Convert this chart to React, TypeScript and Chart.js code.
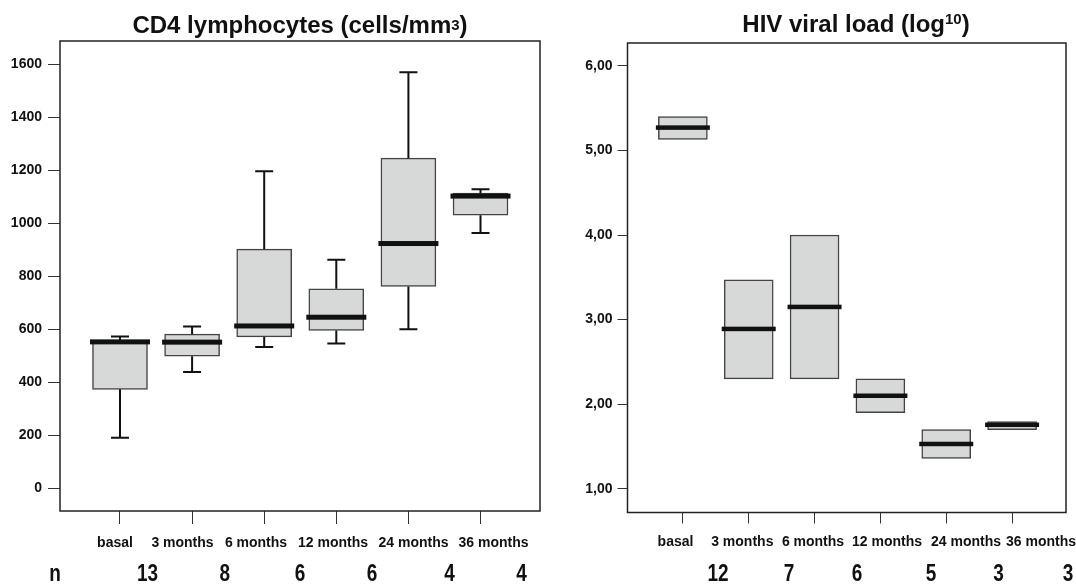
import React, { useEffect, useRef } from "react";
import { Chart, registerables } from "chart.js";

Chart.register(...registerables);

// ---------- DATA ----------
const categories = ["basal", "3 months", "6 months", "12 months", "24 months", "36 months"];

// CD4 lymphocytes (cells/mm3)
const cd4Min = [190, 438, 533, 546, 600, 963];
const cd4Q1 = [373, 498, 571, 595, 761, 1030];
const cd4Median = [552, 551, 612, 645, 923, 1102];
const cd4Q3 = [558, 581, 902, 752, 1245, 1113];
const cd4Max = [572, 610, 1196, 862, 1569, 1128];
const cd4N = [13, 8, 6, 6, 4, 4];
const cd4Ticks = [0, 200, 400, 600, 800, 1000, 1200, 1400, 1600];

// HIV viral load (log10)
const vlQ1 = [5.13, 2.3, 2.3, 1.9, 1.36, 1.7];
const vlMedian = [5.27, 2.89, 3.15, 2.1, 1.53, 1.757];
const vlQ3 = [5.4, 3.47, 4.0, 2.3, 1.7, 1.795];
const vlMin = [5.13, 2.3, 2.3, 1.9, 1.36, 1.7];
const vlMax = [5.4, 3.47, 4.0, 2.3, 1.7, 1.795];
const vlN = [12, 7, 6, 5, 3, 3];
const vlTicks = [1, 2, 3, 4, 5, 6];

const FONT = "'Liberation Sans', Arial, sans-serif";
const INK = "#111";

type Spec = {
  canvasLeft: number;
  width: number;
  height: number;
  q1: number[];
  q3: number[];
  median: number[];
  min: number[];
  max: number[];
  n: number[];
  ticks: number[];
  tickFormat: (v: number) => string;
  yMin: number;
  yMax: number;
  xMin: number;
  xMax: number;
  yAxisWidth: number;
  padding: { top: number; right: number; bottom: number; left: number };
  tickLenY: number;
  tickPadY: number;
  tickLenX: number;
  boxWidth: number;
  medianWidth: number;
  medianThickness: number;
  capWidth: number;
  title: [string, string, string];
  supSize: number;
  supRaise: number;
  titleX: number;
  titleY: number;
  labelX: number[];
  labelY: number;
  nX: number[];
  nY: number;
  nLabelX?: number;
};

function makeConfig(s: Spec): any {
  const boxPlugin = {
    id: "boxExtras",
    afterDatasetsDraw(chart: any) {
      const ctx = chart.ctx;
      const xs = chart.scales.x;
      const ys = chart.scales.y;
      ctx.save();
      ctx.strokeStyle = INK;
      ctx.fillStyle = INK;
      ctx.lineWidth = 2;
      categories.forEach((_, i) => {
        const x = xs.getPixelForValue(i);
        const yq1 = ys.getPixelForValue(s.q1[i]);
        const yq3 = ys.getPixelForValue(s.q3[i]);
        if (s.max[i] > s.q3[i]) {
          const ymax = ys.getPixelForValue(s.max[i]);
          ctx.beginPath();
          ctx.moveTo(x, yq3);
          ctx.lineTo(x, ymax);
          ctx.moveTo(x - s.capWidth / 2, ymax);
          ctx.lineTo(x + s.capWidth / 2, ymax);
          ctx.stroke();
        }
        if (s.min[i] < s.q1[i]) {
          const ymin = ys.getPixelForValue(s.min[i]);
          ctx.beginPath();
          ctx.moveTo(x, yq1);
          ctx.lineTo(x, ymin);
          ctx.moveTo(x - s.capWidth / 2, ymin);
          ctx.lineTo(x + s.capWidth / 2, ymin);
          ctx.stroke();
        }
        const ym = ys.getPixelForValue(s.median[i]);
        ctx.fillRect(x - s.medianWidth / 2, ym - s.medianThickness / 2, s.medianWidth, s.medianThickness);
      });
      // frame
      const a = chart.chartArea;
      ctx.strokeStyle = "#222";
      ctx.lineWidth = 1.5;
      ctx.strokeRect(a.left, a.top, a.right - a.left, a.bottom - a.top);
      ctx.restore();
    },
    afterDraw(chart: any) {
      const ctx = chart.ctx;
      const off = s.canvasLeft;
      ctx.save();
      ctx.fillStyle = INK;
      ctx.textBaseline = "alphabetic";
      // title with superscript
      const mainFont = `bold 24px ${FONT}`;
      const supFont = `bold ${s.supSize}px ${FONT}`;
      const [t0, t1, t2] = s.title;
      ctx.font = mainFont;
      const w0 = ctx.measureText(t0).width;
      const w2 = ctx.measureText(t2).width;
      ctx.font = supFont;
      const w1 = ctx.measureText(t1).width;
      let x = s.titleX - off - (w0 + w1 + w2) / 2;
      ctx.textAlign = "left";
      ctx.font = mainFont;
      ctx.fillText(t0, x, s.titleY);
      x += w0;
      ctx.font = supFont;
      ctx.fillText(t1, x, s.titleY - s.supRaise);
      x += w1;
      ctx.font = mainFont;
      ctx.fillText(t2, x, s.titleY);
      // category labels
      ctx.textAlign = "center";
      ctx.font = `bold 14px ${FONT}`;
      categories.forEach((c, i) => {
        ctx.fillText(c, s.labelX[i] - off, s.labelY);
      });
      // n row
      ctx.font = `bold 19px ${FONT}`;
      const drawTall = (t: string, xx: number) => {
        ctx.save();
        ctx.translate(xx - off, s.nY);
        ctx.scale(1, 1.3);
        ctx.fillText(t, 0, 0);
        ctx.restore();
      };
      if (s.nLabelX !== undefined) drawTall("n", s.nLabelX);
      s.n.forEach((v, i) => drawTall(String(v), s.nX[i]));
      ctx.restore();
    },
  };

  return {
    type: "bar",
    data: {
      datasets: [
        {
          data: categories.map((_, i) => ({ x: i, y: [s.q1[i], s.q3[i]] })),
          backgroundColor: "#d7d9d8",
          borderColor: "#444",
          borderWidth: 1.5,
          borderSkipped: false,
          barThickness: s.boxWidth,
        },
      ],
    },
    options: {
      responsive: false,
      animation: false,
      events: [],
      layout: { padding: s.padding },
      plugins: { legend: { display: false }, tooltip: { enabled: false }, title: { display: false } },
      scales: {
        x: {
          type: "linear",
          offset: false,
          min: s.xMin,
          max: s.xMax,
          afterBuildTicks: (scale: any) => {
            scale.ticks = categories.map((_, i) => ({ value: i }));
          },
          afterFit: (scale: any) => {
            scale.height = 40;
          },
          ticks: { display: false },
          grid: {
            offset: false,
            drawOnChartArea: false,
            drawTicks: true,
            tickLength: s.tickLenX,
            color: "#333",
            lineWidth: 1,
          },
          border: { display: false },
        },
        y: {
          type: "linear",
          beginAtZero: false,
          min: s.yMin,
          max: s.yMax,
          afterBuildTicks: (scale: any) => {
            scale.ticks = s.ticks.map((v) => ({ value: v }));
          },
          afterFit: (scale: any) => {
            scale.width = s.yAxisWidth;
          },
          ticks: {
            autoSkip: false,
            color: INK,
            padding: s.tickPadY,
            font: { family: FONT, size: 14, weight: "bold" },
            callback: (v: any) => s.tickFormat(Number(v)),
          },
          grid: {
            drawOnChartArea: false,
            drawTicks: true,
            tickLength: s.tickLenY,
            color: "#333",
            lineWidth: 1,
          },
          border: { display: false },
        },
      },
    },
    plugins: [boxPlugin],
  };
}

const leftSpec: Spec = {
  canvasLeft: 0,
  width: 550,
  height: 584,
  q1: cd4Q1,
  q3: cd4Q3,
  median: cd4Median,
  min: cd4Min,
  max: cd4Max,
  n: cd4N,
  ticks: cd4Ticks,
  tickFormat: (v) => String(v),
  yMin: -86,
  yMax: 1687,
  xMin: -0.832,
  xMax: 5.825,
  yAxisWidth: 60,
  padding: { top: 41, right: 10, bottom: 33, left: 0 },
  tickLenY: 12,
  tickPadY: 6,
  tickLenX: 13,
  boxWidth: 55,
  medianWidth: 60,
  medianThickness: 5,
  capWidth: 18,
  title: ["CD4 lymphocytes (cells/mm", "3", ")"],
  supSize: 15,
  supRaise: 3,
  titleX: 300,
  titleY: 33,
  labelX: [115, 182.5, 256, 333, 413.5, 493.5],
  labelY: 547,
  nX: [147.6, 224.8, 300, 372, 449.6, 521.6],
  nY: 581,
  nLabelX: 55,
};

const rightSpec: Spec = {
  canvasLeft: 550,
  width: 526,
  height: 584,
  q1: vlQ1,
  q3: vlQ3,
  median: vlMedian,
  min: vlMin,
  max: vlMax,
  n: vlN,
  ticks: vlTicks,
  tickFormat: (v) => v.toFixed(2).replace(".", ","),
  yMin: 0.72,
  yMax: 6.27,
  xMin: -0.841,
  xMax: 5.819,
  yAxisWidth: 77.5,
  padding: { top: 43, right: 10, bottom: 31.5, left: 0 },
  tickLenY: 10,
  tickPadY: 5,
  tickLenX: 11,
  boxWidth: 49,
  medianWidth: 54,
  medianThickness: 4.5,
  capWidth: 16,
  title: ["HIV viral load (log", "10", ")"],
  supSize: 15,
  supRaise: 8,
  titleX: 856,
  titleY: 32,
  labelX: [675.5, 742.3, 813, 887, 966, 1041],
  labelY: 545.5,
  nX: [718, 789, 857, 931, 998.6, 1068],
  nY: 581,
};

function BoxChart({ spec }: { spec: Spec }) {
  const ref = useRef<HTMLCanvasElement | null>(null);
  useEffect(() => {
    if (!ref.current) return;
    const chart = new Chart(ref.current, makeConfig(spec));
    return () => chart.destroy();
  }, [spec]);
  return (
    <canvas
      ref={ref}
      width={spec.width}
      height={spec.height}
      style={{ position: "absolute", left: spec.canvasLeft, top: 0, width: spec.width, height: spec.height }}
    />
  );
}

export default function App() {
  return (
    <div style={{ position: "fixed", left: 0, top: 0, width: 1076, height: 584, background: "#fff", overflow: "hidden" }}>
      <BoxChart spec={leftSpec} />
      <BoxChart spec={rightSpec} />
    </div>
  );
}
